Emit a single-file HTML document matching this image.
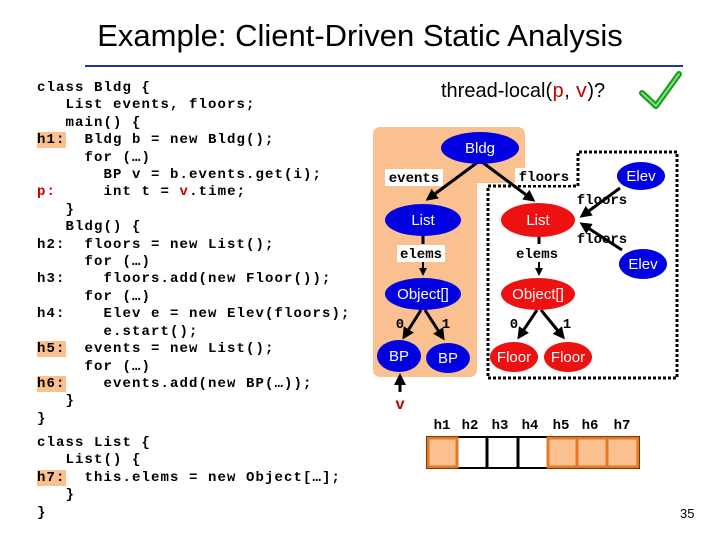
<!DOCTYPE html>
<html><head><meta charset="utf-8"><style>
html,body{margin:0;padding:0;background:#fff;}
body{width:720px;height:540px;position:relative;overflow:hidden;font-family:"Liberation Sans",sans-serif;}
.title{position:absolute;left:0;width:720px;top:18px;text-align:center;font-size:31px;color:#000;}
pre{position:absolute;margin:0;font-family:"Liberation Mono",monospace;font-weight:bold;font-size:14px;letter-spacing:1.1px;line-height:17.4px;color:#000;}
.hl{background:#fac090;}
.r{color:#c00000;}
</style></head><body>
<div class="title">Example: Client-Driven Static Analysis</div>
<div style="position:absolute;left:85px;top:65px;width:598px;height:2px;background:#2233aa;"></div>
<pre style="left:37px;top:80px;">class Bldg {
   List events, floors;
   main() {
<span class="hl">h1:</span>  Bldg b = new Bldg();
     for (…)
       BP v = b.events.get(i);
<span class="r">p:</span>     int t = <span class="r">v</span>.time;
   }
   Bldg() {
h2:  floors = new List();
     for (…)
h3:    floors.add(new Floor());
     for (…)
h4:    Elev e = new Elev(floors);
       e.start();
<span class="hl">h5:</span>  events = new List();
     for (…)
<span class="hl">h6:</span>    events.add(new BP(…));
   }
}</pre>
<pre style="left:37px;top:435px;">class List {
   List() {
<span class="hl">h7:</span>  this.elems = new Object[…];
   }
}</pre>
<div style="position:absolute;left:441px;top:80px;font-size:20px;">thread-local(<span style="font-family:'Liberation Mono',monospace;color:#c00000;">p</span>, <span style="font-family:'Liberation Mono',monospace;color:#c00000;">v</span>)?</div>
<div style="position:absolute;left:680px;top:506px;font-size:13px;">35</div>
<svg width="720" height="540" style="position:absolute;left:0;top:0;" xmlns="http://www.w3.org/2000/svg">
<defs><marker id="a" markerWidth="4" markerHeight="4" refX="3" refY="2" orient="auto" markerUnits="strokeWidth"><path d="M0,0 L4,2 L0,4 Z" fill="#000"/></marker></defs>
<path d="M642,93 L656,106 L679,74" fill="none" stroke="#1a9a1a" stroke-width="6" stroke-linecap="round" stroke-linejoin="round"/>
<path d="M642,93 L656,106 L679,74" fill="none" stroke="#7fe07f" stroke-width="2" stroke-linecap="round" stroke-linejoin="round"/>
<path d="M381,127 H517 q8,0 8,8 V183 H477 V369 q0,8 -8,8 H381 q-8,0 -8,-8 V135 q0,-8 8,-8 Z" fill="#fac090"/>
<path d="M578,186 V152 H677 V378 H488 V186 Z" fill="none" stroke="#000" stroke-width="3" stroke-dasharray="3,2"/>
<g stroke="#000" stroke-width="3" fill="none">
<line x1="478" y1="162" x2="428" y2="199" marker-end="url(#a)"/>
<line x1="482" y1="162" x2="533" y2="200" marker-end="url(#a)"/>
<line x1="620" y1="188" x2="582" y2="216" marker-end="url(#a)"/>
<line x1="622" y1="250" x2="582" y2="224" marker-end="url(#a)"/>
<line x1="423" y1="236" x2="423" y2="244"/>
<line x1="423" y1="262" x2="423" y2="274" stroke-width="2" marker-end="url(#a)"/>
<line x1="539" y1="236" x2="539" y2="244"/>
<line x1="539" y1="262" x2="539" y2="274" stroke-width="2" marker-end="url(#a)"/>
<line x1="421" y1="310" x2="404" y2="337" marker-end="url(#a)"/>
<line x1="425" y1="310" x2="443" y2="338" marker-end="url(#a)"/>
<line x1="537" y1="310" x2="519" y2="337" marker-end="url(#a)"/>
<line x1="541" y1="310" x2="563" y2="337" marker-end="url(#a)"/>
<line x1="400" y1="392" x2="400" y2="376" marker-end="url(#a)"/>
</g>
<g fill="#fff"><rect x="385" y="169" width="58" height="17"/><rect x="515" y="168" width="58" height="17"/><rect x="397" y="245" width="48" height="17"/></g>
<g font-family="Liberation Mono,monospace" font-weight="bold" font-size="14" fill="#000" text-anchor="middle">
<text x="414" y="182">events</text><text x="544" y="181">floors</text>
<text x="602" y="204">floors</text><text x="602" y="243">floors</text>
<text x="421" y="258">elems</text><text x="537" y="258">elems</text>
<text x="400" y="328">0</text><text x="446" y="328">1</text>
<text x="514" y="328">0</text><text x="567" y="328">1</text>
<text x="400" y="409" fill="#c00000" font-size="16">v</text>
</g>
<g fill="#0000e0"><ellipse cx="480" cy="148" rx="39" ry="16"/><ellipse cx="423" cy="220" rx="38" ry="16"/><ellipse cx="423" cy="294" rx="38" ry="16"/><ellipse cx="399" cy="356" rx="22" ry="16"/><ellipse cx="448" cy="358" rx="22" ry="15"/><ellipse cx="641" cy="176" rx="24" ry="14"/><ellipse cx="643" cy="264" rx="24" ry="15"/></g>
<g fill="#ee1111"><ellipse cx="538" cy="220" rx="37" ry="17"/><ellipse cx="538" cy="294" rx="37" ry="16"/><ellipse cx="514" cy="357" rx="24" ry="15"/><ellipse cx="568" cy="357" rx="24" ry="15"/></g>
<g font-family="Liberation Sans,sans-serif" font-size="15" fill="#fff" text-anchor="middle">
<text x="480" y="153">Bldg</text><text x="423" y="225">List</text><text x="423" y="299">Object[]</text><text x="399" y="361">BP</text><text x="448" y="363">BP</text>
<text x="641" y="181">Elev</text><text x="643" y="269">Elev</text>
<text x="538" y="225">List</text><text x="538" y="299">Object[]</text><text x="514" y="362">Floor</text><text x="568" y="362">Floor</text>
</g>
<g font-family="Liberation Mono,monospace" font-weight="bold" font-size="14" text-anchor="middle">
<text x="442" y="429">h1</text><text x="470" y="429">h2</text><text x="500" y="429">h3</text><text x="530" y="429">h4</text><text x="561" y="429">h5</text><text x="590" y="429">h6</text><text x="622" y="429">h7</text>
</g>
<rect x="427" y="437" width="212" height="31" fill="#fff" stroke="#000" stroke-width="2"/>
<g fill="#fac090" stroke="#e87722" stroke-width="3">
<rect x="428" y="438" width="29" height="29"/>
<rect x="548" y="438" width="29" height="29"/>
<rect x="577" y="438" width="30" height="29"/>
<rect x="607" y="438" width="31" height="29"/>
</g>
<g stroke="#000" stroke-width="3"><line x1="487" y1="437" x2="487" y2="468"/><line x1="518" y1="437" x2="518" y2="468"/></g>
</svg>
</body></html>
